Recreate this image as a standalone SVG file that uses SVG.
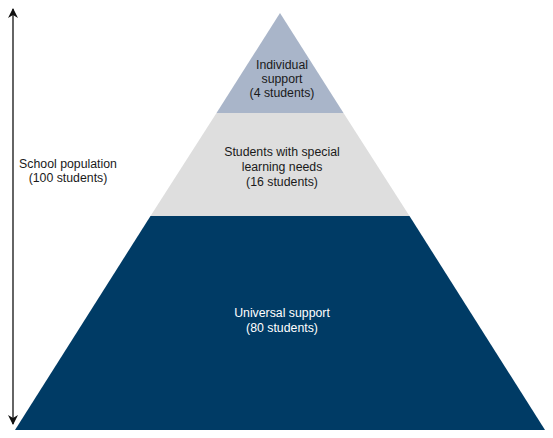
<svg xmlns="http://www.w3.org/2000/svg" width="553" height="438" viewBox="0 0 553 438">
<style>
text{font-family:"Liberation Sans",Arial,sans-serif;font-size:12.3px;text-anchor:middle;fill:#1a1a1a}
.w{fill:#ffffff}
</style>
<defs>
<marker id="ah" viewBox="0 0 10 10" refX="9" refY="5" markerWidth="10" markerHeight="10" markerUnits="userSpaceOnUse" orient="auto-start-reverse">
<path d="M0,0 L10,5 L0,10 L3,5 Z" fill="#111"/>
</marker>
</defs>
<rect width="553" height="438" fill="#fff"/>
<g id="tier-individual">
<polygon points="280,13 216.5,113 343.5,113" fill="#a9b5c9"/>
<text x="282" y="69">Individual</text>
<text x="282" y="83">support</text>
<text x="282" y="97">(4 students)</text>
</g>
<g id="tier-special">
<polygon points="216.5,113 343.5,113 409.5,216 150.5,216" fill="#dedede"/>
<text x="282" y="156">Students with special</text>
<text x="282" y="171">learning needs</text>
<text x="282" y="186">(16 students)</text>
</g>
<g id="tier-universal">
<polygon points="150.5,216 409.5,216 545,430 15,430" fill="#003b65"/>
<text class="w" x="282" y="317">Universal support</text>
<text class="w" x="282" y="332">(80 students)</text>
</g>
<g id="connectors">
<line x1="13" y1="9" x2="13" y2="424" stroke="#111" stroke-width="1.3" marker-start="url(#ah)" marker-end="url(#ah)"/>
</g>
<g id="school-population">
<text x="68" y="168">School population</text>
<text x="68" y="182">(100 students)</text>
</g>
</svg>
